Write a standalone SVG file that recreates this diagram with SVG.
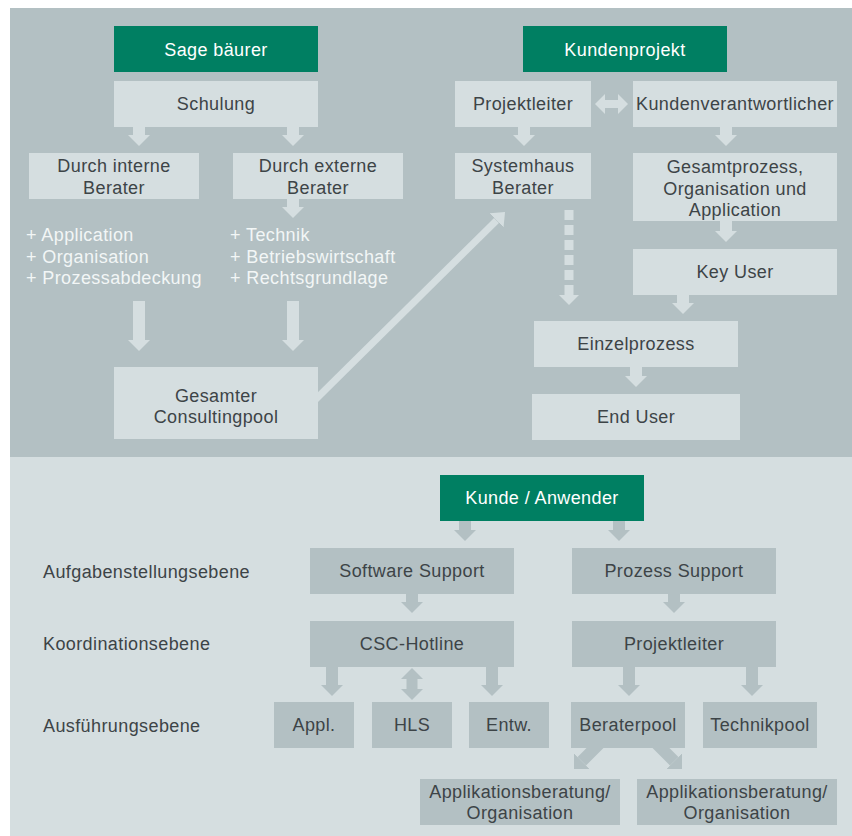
<svg xmlns="http://www.w3.org/2000/svg" width="852" height="836" viewBox="0 0 852 836">
<defs>
<style>
text{font-family:"Liberation Sans",Arial,Helvetica,sans-serif;font-size:18px;letter-spacing:0.4px;fill:#3d4447;text-anchor:middle}
text.w{fill:#ffffff}
text.l{fill:#f2f6f6;text-anchor:start}
text.s{text-anchor:start}
.g{fill:#007f62}
.lb{fill:#d5dee0}
.db{fill:#b3c0c3}
.cl{stroke:#d5dee0;fill:none}
.cd{stroke:#b3c0c3;fill:none}
</style>
<marker id="hL" markerUnits="userSpaceOnUse" markerWidth="11" markerHeight="22" viewBox="0 0 11 22" refX="0" refY="11" orient="auto-start-reverse"><path d="M0,0L11,11L0,22z" fill="#d5dee0"/></marker>
<marker id="hLs" markerUnits="userSpaceOnUse" markerWidth="10" markerHeight="20" viewBox="0 0 10 20" refX="0" refY="10" orient="auto-start-reverse"><path d="M0,0L10,10L0,20z" fill="#d5dee0"/></marker>
<marker id="hLd" markerUnits="userSpaceOnUse" markerWidth="12" markerHeight="20" viewBox="0 0 12 20" refX="0" refY="10" orient="auto"><path d="M0,0L12,10L0,20z" fill="#d5dee0"/></marker>
<marker id="hD" markerUnits="userSpaceOnUse" markerWidth="11" markerHeight="22" viewBox="0 0 11 22" refX="0" refY="11" orient="auto-start-reverse"><path d="M0,0L11,11L0,22z" fill="#b3c0c3"/></marker>
</defs>
<rect x="10" y="8" width="842" height="449" fill="#b3c0c3"/>
<rect x="10" y="457" width="842" height="379" fill="#d5dee0"/>

<g id="connectors">
<g class="cl" stroke-width="12" marker-end="url(#hL)">
<line x1="139" y1="126" x2="139" y2="135"/>
<line x1="293" y1="126" x2="293" y2="135"/>
<line x1="293" y1="198" x2="293" y2="207"/>
<line x1="139" y1="301" x2="139" y2="340"/>
<line x1="293" y1="301" x2="293" y2="340"/>
<line x1="524" y1="126" x2="524" y2="135"/>
<line x1="726" y1="126" x2="726" y2="135"/>
<line x1="726" y1="220" x2="726" y2="231"/>
<line x1="683" y1="294" x2="683" y2="303"/>
<line x1="636" y1="366" x2="636" y2="376"/>
</g>
<line class="cl" x1="569" y1="210" x2="569" y2="295" stroke-width="9" stroke-dasharray="10 5" marker-end="url(#hLs)"/>
<line class="cl" x1="314" y1="401" x2="496.5" y2="220.4" stroke-width="7" marker-end="url(#hLd)"/>
<line class="cl" x1="605" y1="104" x2="618" y2="104" stroke-width="8" marker-start="url(#hLs)" marker-end="url(#hLs)"/>
<g class="cd" stroke-width="12" marker-end="url(#hD)">
<line x1="465" y1="520" x2="465" y2="530"/>
<line x1="619" y1="520" x2="619" y2="530"/>
<line x1="412" y1="593" x2="412" y2="602"/>
<line x1="674" y1="593" x2="674" y2="602"/>
<line x1="332" y1="666" x2="332" y2="685"/>
<line x1="492" y1="666" x2="492" y2="685"/>
<line x1="629" y1="666" x2="629" y2="685"/>
<line x1="752" y1="666" x2="752" y2="685"/>
<line x1="600" y1="743" x2="581.8" y2="761.2"/>
<line x1="656" y1="743" x2="674.2" y2="761.2"/>
</g>
<line class="cd" x1="412" y1="679" x2="412" y2="689" stroke-width="11" marker-start="url(#hD)" marker-end="url(#hD)"/>
</g>

<g id="sage"><rect class="g" x="114" y="26" width="204" height="46"/><text class="w" x="216" y="55.5">Sage bäurer</text></g>
<g id="schulung"><rect class="lb" x="114" y="81" width="204" height="46"/><text x="216" y="110">Schulung</text></g>
<g id="intern"><rect class="lb" x="29" y="153" width="170" height="46"/><text x="114" y="172">Durch interne</text><text x="114" y="194">Berater</text></g>
<g id="extern"><rect class="lb" x="233" y="153" width="170" height="46"/><text x="318" y="172">Durch externe</text><text x="318" y="194">Berater</text></g>
<g id="intern-list"><text class="l" x="26" y="241">+ Application</text><text class="l" x="26" y="262.5">+ Organisation</text><text class="l" x="26" y="284">+ Prozessabdeckung</text></g>
<g id="extern-list"><text class="l" x="230" y="241">+ Technik</text><text class="l" x="230" y="262.5">+ Betriebswirtschaft</text><text class="l" x="230" y="284">+ Rechtsgrundlage</text></g>
<g id="pool"><rect class="lb" x="114" y="367" width="204" height="72"/><text x="216" y="401.5">Gesamter</text><text x="216" y="423">Consultingpool</text></g>

<g id="kundenprojekt"><rect class="g" x="523" y="26" width="204" height="46"/><text class="w" x="625" y="55.5">Kundenprojekt</text></g>
<g id="projektleiter1"><rect class="lb" x="455" y="81" width="136" height="46"/><text x="523" y="110">Projektleiter</text></g>
<g id="kundenverantw"><rect class="lb" x="633" y="81" width="204" height="46"/><text x="735" y="110">Kundenverantwortlicher</text></g>
<g id="systemhaus"><rect class="lb" x="455" y="153" width="136" height="46"/><text x="523" y="172">Systemhaus</text><text x="523" y="194">Berater</text></g>
<g id="gesamtprozess"><rect class="lb" x="633" y="153" width="204" height="68"/><text x="735" y="173">Gesamtprozess,</text><text x="735" y="194.5">Organisation und</text><text x="735" y="216">Application</text></g>
<g id="keyuser"><rect class="lb" x="633" y="249" width="204" height="46"/><text x="735" y="278">Key User</text></g>
<g id="einzelprozess"><rect class="lb" x="534" y="321" width="204" height="46"/><text x="636" y="350">Einzelprozess</text></g>
<g id="enduser"><rect class="lb" x="532" y="394" width="208" height="46"/><text x="636" y="423">End User</text></g>

<g id="levels"><text class="s" x="43" y="578">Aufgabenstellungsebene</text><text class="s" x="43" y="650">Koordinationsebene</text><text class="s" x="43" y="732">Ausführungsebene</text></g>
<g id="kunde"><rect class="g" x="440" y="475" width="204" height="46"/><text class="w" x="542" y="504">Kunde / Anwender</text></g>
<g id="softwaresupport"><rect class="db" x="310" y="548" width="204" height="46"/><text x="412" y="577">Software Support</text></g>
<g id="prozesssupport"><rect class="db" x="572" y="548" width="204" height="46"/><text x="674" y="577">Prozess Support</text></g>
<g id="csc"><rect class="db" x="310" y="621" width="204" height="46"/><text x="412" y="650">CSC-Hotline</text></g>
<g id="projektleiter2"><rect class="db" x="572" y="621" width="204" height="46"/><text x="674" y="650">Projektleiter</text></g>
<g id="appl"><rect class="db" x="274" y="702" width="80" height="46"/><text x="314" y="731">Appl.</text></g>
<g id="hls"><rect class="db" x="372" y="702" width="80" height="46"/><text x="412" y="731">HLS</text></g>
<g id="entw"><rect class="db" x="469" y="702" width="80" height="46"/><text x="509" y="731">Entw.</text></g>
<g id="beraterpool"><rect class="db" x="571" y="702" width="114" height="46"/><text x="628" y="731">Beraterpool</text></g>
<g id="technikpool"><rect class="db" x="703" y="702" width="114" height="46"/><text x="760" y="731">Technikpool</text></g>
<g id="applberatung1"><rect class="db" x="420" y="779" width="200" height="46"/><text x="520" y="797.5">Applikationsberatung/</text><text x="520" y="818.5">Organisation</text></g>
<g id="applberatung2"><rect class="db" x="637" y="779" width="200" height="46"/><text x="737" y="797.5">Applikationsberatung/</text><text x="737" y="818.5">Organisation</text></g>
</svg>
